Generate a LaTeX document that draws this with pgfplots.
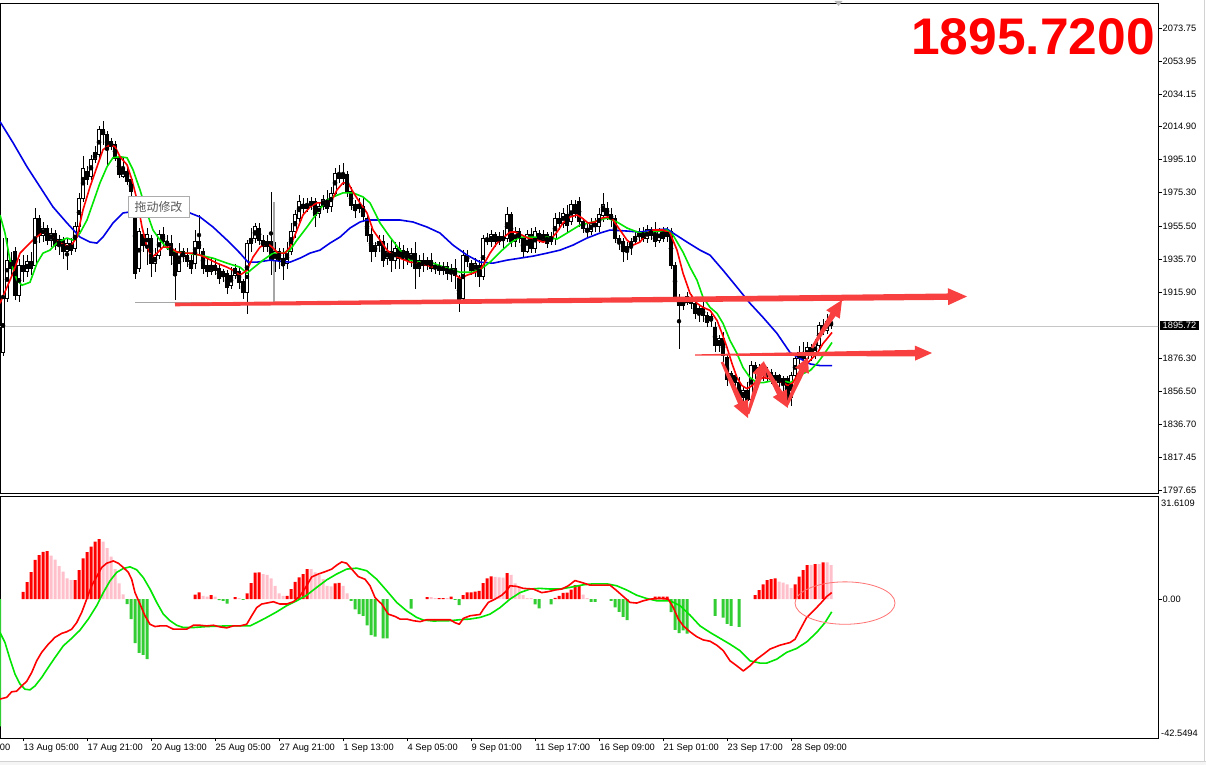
\documentclass[border=0pt]{standalone}
\usepackage{fontspec}
\setmainfont{Liberation Sans}
\newfontfamily\cjk{Noto Sans CJK SC}
\usepackage{pgfplots}
\pgfplotsset{compat=1.18}
\usepackage{pgfplotstable}
\usetikzlibrary{calc}

\definecolor{arr}{RGB}{248,64,64}
\definecolor{mared}{RGB}{255,0,0}
\definecolor{magreen}{RGB}{0,230,0}
\definecolor{mablue}{RGB}{0,0,230}
\definecolor{hred}{RGB}{255,0,0}
\definecolor{hpink}{RGB}{255,192,203}
\definecolor{hgreen}{RGB}{50,205,50}

\newcommand{\warrow}[8]{%
 \coordinate (wA) at (#1,765-#2);
 \coordinate (wB) at (#3,765-#4);
 \coordinate (wH) at ($(wB)!#8!(wA)$);
 \fill[arr] ($(wA)!#5!90:(wB)$) -- ($(wH)!#6!90:(wB)$) -- ($(wH)!#7!90:(wB)$) -- (wB) -- ($(wH)!#7!-90:(wB)$) -- ($(wH)!#6!-90:(wB)$) -- ($(wA)!#5!-90:(wB)$) -- cycle;}

\pgfplotstableread{
i O H L C
0 1880 1948 1878 1912
1 1912 1948 1910 1935
2 1935 1940 1925 1930
3 1940 1943 1911 1914
4 1914 1936 1910 1932
5 1932 1938 1922 1928
6 1928 1938 1925 1934
7 1934 1940 1926 1930
8 1932 1966 1930 1960
9 1960 1962 1945 1950
10 1950 1958 1946 1954
11 1954 1956 1944 1947
12 1947 1954 1943 1951
13 1951 1953 1941 1944
14 1944 1950 1938 1947
15 1947 1949 1936 1940
16 1940 1948 1929 1945
17 1945 1948 1938 1941
18 1942 1958 1940 1955
19 1955 1975 1952 1972
20 1972 1997 1970 1990
21 1988 1991 1980 1983
22 1985 1998 1983 1995
23 1995 2003 1993 1999
24 1998 2015 1996 2013
25 2013 2018 2004 2010
26 2010 2012 1991 2001
27 2003 2008 2001 2006
28 2004 2006 1994 1996
29 1996 1998 1984 1986
30 1985 1996 1984 1990
31 1988 1991 1980 1982
32 1983 1985 1973 1976
33 1972 1974 1924 1927
34 1930 1954 1928 1952
35 1950 1952 1940 1944
36 1944 1954 1932 1950
37 1948 1950 1925 1933
38 1933 1942 1928 1938
39 1938 1953 1936 1950
40 1950 1955 1943 1946
41 1946 1950 1941 1944
42 1945 1950 1932 1938
43 1940 1942 1911 1926
44 1928 1945 1928 1940
45 1940 1942 1934 1937
46 1938 1942 1931 1934
47 1935 1938 1927 1930
48 1933 1953 1930 1946
49 1946 1962 1938 1942
50 1940 1942 1927 1930
51 1932 1936 1925 1928
52 1928 1936 1926 1932
53 1932 1936 1926 1929
54 1930 1933 1921 1924
55 1925 1930 1922 1928
56 1927 1929 1915 1919
57 1920 1931 1918 1926
58 1926 1933 1924 1930
59 1928 1931 1918 1922
60 1922 1924 1912 1916
61 1916 1947 1903 1945
62 1945 1954 1940 1948
63 1948 1957 1945 1955
64 1954 1957 1944 1947
65 1947 1950 1940 1943
66 1943 1950 1940 1946
67 1946 1976 1926 1935
68 1935 1946 1928 1940
69 1940 1942 1930 1936
70 1936 1942 1923 1932
71 1933 1946 1930 1940
72 1940 1957 1938 1952
73 1952 1965 1948 1962
74 1960 1974 1958 1970
75 1968 1972 1963 1966
76 1966 1972 1964 1968
77 1968 1973 1965 1970
78 1970 1972 1955 1962
79 1963 1970 1960 1967
80 1967 1974 1965 1971
81 1970 1977 1963 1966
82 1967 1979 1964 1975
83 1975 1990 1973 1987
84 1987 1992 1981 1984
85 1984 1993 1980 1987
86 1986 1988 1973 1976
87 1976 1979 1965 1968
88 1968 1971 1960 1965
89 1966 1972 1963 1968
90 1967 1972 1958 1961
91 1960 1962 1946 1950
92 1950 1954 1934 1940
93 1940 1946 1937 1944
94 1944 1950 1940 1946
95 1946 1950 1931 1935
96 1936 1945 1932 1940
97 1940 1948 1928 1935
98 1935 1946 1930 1942
99 1942 1946 1930 1936
100 1937 1944 1930 1941
101 1940 1942 1932 1935
102 1935 1942 1931 1939
103 1939 1946 1918 1930
104 1930 1938 1925 1935
105 1935 1939 1928 1932
106 1932 1937 1929 1935
107 1935 1939 1928 1930
108 1930 1934 1927 1932
109 1932 1934 1926 1929
110 1929 1934 1926 1931
111 1931 1934 1923 1927
112 1927 1933 1922 1930
113 1930 1936 1918 1926
114 1924 1926 1904 1910
115 1912 1941 1910 1938
116 1938 1941 1931 1934
117 1933 1935 1926 1929
118 1929 1936 1925 1933
119 1932 1935 1919 1925
120 1925 1950 1923 1948
121 1948 1951 1944 1946
122 1946 1953 1943 1950
123 1950 1952 1943 1946
124 1946 1952 1944 1949
125 1949 1953 1942 1947
126 1948 1967 1946 1962
127 1962 1964 1943 1946
128 1946 1955 1943 1952
129 1952 1954 1945 1948
130 1948 1950 1937 1940
131 1940 1953 1939 1950
132 1950 1954 1939 1942
133 1942 1955 1939 1952
134 1951 1953 1945 1947
135 1947 1953 1945 1950
136 1950 1952 1942 1945
137 1946 1952 1944 1949
138 1948 1963 1944 1960
139 1960 1964 1953 1957
140 1957 1966 1954 1963
141 1962 1968 1952 1956
142 1958 1971 1956 1968
143 1968 1971 1960 1963
144 1970 1973 1955 1958
145 1958 1960 1951 1954
146 1954 1957 1948 1952
147 1952 1960 1950 1957
148 1957 1960 1952 1955
149 1955 1966 1952 1962
150 1962 1975 1958 1968
151 1966 1970 1959 1962
152 1962 1966 1955 1960
153 1960 1962 1945 1948
154 1948 1950 1941 1946
155 1946 1948 1934 1940
156 1940 1946 1935 1943
157 1943 1948 1938 1946
158 1946 1952 1944 1949
159 1949 1954 1946 1951
160 1951 1955 1946 1948
161 1948 1956 1945 1953
162 1953 1955 1947 1950
163 1950 1958 1943 1946
164 1947 1954 1945 1952
165 1952 1955 1946 1948
166 1949 1955 1946 1952
167 1952 1954 1930 1932
168 1932 1934 1910 1913
169 1912 1915 1882 1908
170 1908 1913 1905 1910
171 1910 1916 1908 1913
172 1912 1915 1906 1909
173 1909 1912 1900 1903
174 1904 1908 1898 1906
175 1906 1910 1898 1902
176 1902 1904 1895 1898
177 1899 1904 1895 1901
178 1895 1898 1880 1884
179 1884 1890 1880 1888
180 1888 1892 1874 1878
181 1877 1879 1860 1864
182 1864 1869 1860 1867
183 1866 1868 1858 1862
184 1862 1865 1850 1853
185 1853 1860 1849 1857
186 1857 1862 1848 1851
187 1852 1875 1850 1872
188 1872 1874 1864 1868
189 1868 1873 1864 1871
190 1871 1874 1863 1866
191 1866 1871 1862 1868
192 1868 1870 1861 1864
193 1864 1868 1860 1866
194 1866 1867 1859 1862
195 1862 1866 1856 1864
196 1864 1866 1849 1853
197 1853 1868 1848 1866
198 1866 1878 1864 1876
199 1876 1884 1873 1880
200 1880 1886 1872 1876
201 1876 1886 1874 1883
202 1883 1885 1875 1878
203 1879 1888 1876 1885
204 1884 1898 1882 1896
205 1896 1900 1890 1893
206 1893 1903 1891 1898
207 1898 1901 1894 1895.72
}\candles

\begin{document}
\begin{tikzpicture}[x=1bp,y=1bp]
\fill[white] (0,0) rectangle (1206,765);
\fill[gray!8] (0,0) rectangle (1206,3.5);
\draw[gray!35, line width=0.8bp] (0,3.5) -- (1206,3.5);
\draw[gray!35, line width=0.8bp] (1204.6,3.5) -- (1204.6,765);

% ---------------- price panel ----------------
\begin{axis}[
  at={(0bp,272bp)}, anchor=south west,
  width=1158bp, height=490bp, scale only axis,
  xmin=-0.75, xmax=288.75, ymin=1795.86, ymax=2088.69,
  xtick=\empty,
  ytick={2073.75,2053.95,2034.15,2014.90,1995.10,1975.30,1955.50,1935.70,1915.90,1876.30,1856.50,1836.70,1817.45,1797.65},
  yticklabels={2073.75,2053.95,2034.15,2014.90,1995.10,1975.30,1955.50,1935.70,1915.90,1876.30,1856.50,1836.70,1817.45,1797.65},
  ytick pos=right, yticklabel pos=right,
  tick align=outside, major tick length=3.5bp,
  ytick style={black, line width=0.6bp},
  yticklabel style={font=\fontsize{9.3}{11}\selectfont, anchor=west, inner xsep=1bp},
  axis line style={black, line width=0.8bp},
  clip=true,
]
\addplot[gray!45, line width=0.7bp, forget plot] coordinates {(-1,1895.72) (290,1895.72)};
\addplot[gray!70, line width=1.5bp, forget plot] coordinates {(33,1909.7) (67.75,1909.7) (67.75,1970)};
% wicks
\addplot[only marks, mark=none, forget plot,
  error bars/.cd, y dir=both, y explicit, error mark=none,
  error bar style={draw=black, line width=1bp}]
  table[x=i, y expr={(\thisrow{H}+\thisrow{L})/2}, y error expr={(\thisrow{H}-\thisrow{L})/2}] {\candles};
% bodies
\addplot[only marks, mark=none, forget plot,
  error bars/.cd, y dir=both, y explicit, error mark=none,
  error bar style={draw=black, line width=3.4bp, line cap=butt}]
  table[x=i, y expr={(\thisrow{O}+\thisrow{C})/2}, y error expr={abs(\thisrow{C}-\thisrow{O})/2+0.35}] {\candles};
\addplot[only marks, mark=none, forget plot,
  error bars/.cd, y dir=both, y explicit, error mark=none,
  error bar style={draw=white, line width=1.6bp, line cap=butt}]
  table[x=i, y expr={(\thisrow{O}+\thisrow{C})/2}, y error expr={(\thisrow{C}>\thisrow{O})*max(abs(\thisrow{C}-\thisrow{O})/2-0.25,0)}] {\candles};
% moving averages
\addplot[mablue, line width=1.6bp, line join=round, mark=none] coordinates {
(-0.75,2017.8) (2.5,2005.2) (6,1990.8) (9.25,1978.8) (12.5,1966.8) (16,1957.2) (19.25,1948.8) (21.75,1945.8) (23.5,1945.2) (25,1948.8) (27.5,1957.2) (30,1963.2) (31.75,1963.8) (39.25,1966.2) (46.75,1963.2) (49.25,1960.8) (52.5,1954.8) (56,1947) (59.25,1939.2) (61.25,1933.8) (63.5,1933.8) (66.75,1935) (69.25,1934.4) (71.75,1933.8) (74.25,1936.2) (76.75,1939.2) (79.25,1941) (81.75,1945.2) (84.25,1948.8) (86.75,1954.2) (89.25,1957.8) (91,1959) (99.25,1959) (102.5,1957.8) (106,1954.8) (109.25,1951.2) (112.5,1944) (116,1938) (119.25,1933.8) (122.5,1933.2) (126,1935) (129.25,1936.2) (132.5,1937.4) (136,1939.2) (139.25,1941) (142.5,1944) (146,1948.2) (149.25,1951.2) (151.75,1953) (156,1952.4) (159.25,1951.8) (162.5,1953) (166,1953.6) (167.5,1951.2) (171,1945.8) (174.25,1941) (176.75,1938) (180,1929) (183.5,1918.8) (186.75,1909.2) (190,1900.8) (193.5,1891.2) (196.75,1879.8) (199.25,1876.2) (201.75,1873) (204.25,1872) (207.25,1872)};
\addplot[magreen, line width=1.6bp, line join=round, mark=none] coordinates {
(-0.75,1962) (0.5,1951.2) (1.75,1935) (3.5,1923) (4.75,1920) (6.75,1921.8) (8.5,1933.2) (10,1939.2) (11.75,1941) (13.75,1945.8) (16,1948.2) (17.5,1947) (19.25,1951.2) (21,1959) (22.5,1969.2) (24.25,1981.2) (26,1990.8) (27.5,1996.2) (29.25,1996.8) (31,1996.2) (32.5,1989) (34.25,1977) (36,1963.2) (37.5,1953) (39.25,1947) (41,1942.2) (43.5,1939.8) (46,1939.2) (49.25,1938) (52.5,1936.2) (56,1933.2) (59.25,1930.8) (61,1927.2) (62.5,1930.2) (65,1935) (67.5,1939.2) (70,1939.2) (71.75,1941) (73.5,1947) (76,1954.8) (78.5,1963.2) (81,1971) (82.5,1972.8) (85,1975.2) (87.5,1975.2) (90,1972.8) (91.75,1969.2) (94.25,1957.2) (96.75,1948.8) (99.25,1941) (101.75,1935) (104.25,1933.8) (107.5,1933.2) (111,1930.2) (114.25,1927.8) (117.5,1927.8) (119.75,1930.2) (121.75,1933.8) (124.25,1939.8) (126.75,1945.2) (129.25,1948.8) (132.5,1948.8) (136,1948.8) (138.5,1947.6) (141,1951.2) (144.25,1956) (147.5,1957.8) (151,1960.2) (153.5,1957.8) (156,1954.2) (159.25,1951.2) (162.5,1951.8) (166,1953) (167.5,1950) (170,1939.8) (171.75,1930.8) (173.5,1923) (175,1912.8) (176.75,1906.8) (178.5,1903.2) (180,1897.2) (181.75,1887) (183.5,1879.2) (185,1870.8) (186.75,1864.8) (188.5,1861.8) (190,1861.8) (192.5,1863) (195,1863) (196.75,1861.8) (198.5,1864.2) (200,1867.2) (201.75,1869) (203.5,1873.2) (205,1878) (206.75,1884) (207.25,1885.8)};
\addplot[mared, line width=1.6bp, line join=round, mark=none] coordinates {
(-0.75,1909.2) (2.5,1927.2) (4.25,1939.2) (7.5,1947) (10,1951.8) (12.25,1948.8) (14.25,1945.2) (16.75,1942.8) (18.5,1948.8) (20,1965) (21.75,1978.8) (23.5,1990.8) (25,2001) (26.75,2004) (28,2002.8) (29.25,1996.8) (31,1992) (32.25,1983) (33.5,1971) (34.75,1954.8) (36,1942.8) (37.25,1936.8) (38.5,1939.2) (40,1942.8) (41.75,1942.8) (43.5,1939.8) (45,1939.2) (47.25,1939.2) (49.25,1938) (51,1936.2) (53.5,1933.2) (56,1930.8) (57.5,1929) (59.25,1926) (61,1929) (62.5,1936.8) (64.25,1942.8) (66,1945.2) (67.25,1942.8) (68.75,1939.2) (70.5,1939.2) (71.75,1942.8) (73.5,1953) (75,1962) (76.75,1966.8) (78.5,1969.2) (80.5,1969.2) (82.25,1971) (83.5,1977) (85,1981.2) (86.25,1981.2) (87.5,1975.8) (89.25,1969.2) (91,1963.2) (92.5,1953) (94.25,1947) (96,1941) (97.5,1938) (99.25,1936.2) (101.75,1933.8) (104.25,1933.2) (107.5,1930.8) (110,1930.2) (112.5,1927.2) (114.25,1924.2) (116,1926) (117.5,1927.2) (119.25,1929) (120.5,1933.8) (121.75,1939.2) (123.5,1945.2) (125,1948.2) (126.75,1951.8) (128,1951.8) (129.75,1950) (131.25,1948.2) (133.5,1947) (135,1945.8) (136.75,1947) (138.5,1951.8) (140,1957.2) (141.75,1960.8) (143.5,1962) (144.75,1960.2) (146.25,1957.2) (148,1957.8) (149.75,1960.2) (151.25,1960.8) (152.5,1959) (154.25,1953) (156,1947) (157.5,1944) (159.25,1945.8) (161,1951.2) (162.5,1953) (165,1953) (166.75,1951.2) (168.5,1941) (170,1927.2) (171.75,1915.2) (173.5,1909.2) (175,1906.8) (176.75,1905) (178.5,1899) (179.75,1891.2) (181,1882.8) (182.25,1873.2) (183.5,1864.8) (184.75,1860) (186,1858.2) (187.25,1860) (188.5,1863) (190,1864.8) (191.75,1864.2) (193.5,1863) (195,1861.8) (196.25,1860) (197.5,1861.8) (198.75,1867.2) (200,1870.8) (201.75,1875) (203.5,1879.2) (205,1885.2) (206.25,1888.8) (207.25,1891.8)};
\end{axis}

% ---------------- MACD panel ----------------
\begin{axis}[
  at={(0bp,27bp)}, anchor=south west,
  width=1158bp, height=242bp, scale only axis,
  xmin=-0.75, xmax=288.75, ymin=-42.5494, ymax=31.6109,
  xtick={5,21,...,197},
  xticklabels={13 Aug 05:00,17 Aug 21:00,20 Aug 13:00,25 Aug 05:00,27 Aug 21:00,1 Sep 13:00,4 Sep 05:00,9 Sep 01:00,11 Sep 17:00,16 Sep 09:00,21 Sep 01:00,23 Sep 17:00,28 Sep 09:00},
  xtick pos=bottom,
  xticklabel style={font=\fontsize{9.3}{11}\selectfont, anchor=north west, inner xsep=0.5bp, inner ysep=2bp},
  ytick={0}, yticklabels={0.00},
  ytick pos=right, yticklabel pos=right,
  tick align=outside, major tick length=3.5bp,
  tick style={black, line width=0.6bp},
  yticklabel style={font=\fontsize{9.3}{11}\selectfont, anchor=west, inner xsep=1bp},
  axis line style={black, line width=0.8bp},
  clip=true,
]
\addplot[ybar, bar width=3bp, bar shift=0pt, fill=hred, draw=none, forget plot] coordinates {
(5,2.25) (6,5.2) (7,8.3) (8,12.0) (9,13.5) (10,14.5) (11,14.7) (18,5.8) (19,8.9) (20,12.5) (21,14.4) (22,16.1) (23,17.6) (24,18.4) (48,1.4) (49,2.1) (52,1.2) (58,0.6) (61,1.8) (62,4.9) (63,8.1) (64,8.2) (71,1.0) (72,3.1) (73,5.3) (74,6.7) (75,7.7) (76,9.2) (83,4.8) (84,5.0) (106,0.6) (109,0.3) (110,0.3) (112,0.8) (115,1.2) (116,2.1) (117,2.1) (118,2.3) (119,2.5) (120,4.9) (121,6.4) (122,7.0) (126,8.0) (138,0.4) (139,1.0) (140,1.9) (141,2.0) (142,2.9) (143,4.3) (144,4.3) (163,0.8) (164,0.8) (165,0.8) (166,0.8) (188,1.2) (189,2.8) (190,4.5) (191,5.8) (192,6.1) (193,6.4) (198,4.5) (199,6.9) (200,8.9) (201,10.4) (203,10.7) (205,11.3)};
\addplot[ybar, bar width=3bp, bar shift=0pt, fill=hpink, draw=none, forget plot] coordinates {
(12,13.3) (13,12.1) (14,10.1) (15,8.4) (16,6.4) (17,5.8) (25,17.6) (26,15.6) (27,13.0) (28,9.2) (29,4.8) (30,1.5) (50,1.0) (51,0.8) (53,0.8) (59,0.3) (65,7.7) (66,7.4) (67,6.4) (68,4.1) (69,1.8) (70,1.0) (77,9.2) (78,8.2) (79,7.4) (80,6.1) (81,4.1) (82,3.9) (85,4.1) (86,1.8) (107,0.6) (108,0.3) (111,0.3) (123,6.8) (124,6.7) (125,6.6) (127,7.4) (128,4.8) (129,3.9) (130,1.2) (131,0.3) (132,0.3) (145,1.4) (146,0.3) (194,5.4) (195,5.1) (196,4.5) (197,3.4) (202,10.4) (204,10.7) (206,11.3) (207,10.4)};
\addplot[ybar, bar width=3bp, bar shift=0pt, fill=hgreen, draw=none, forget plot] coordinates {
(-0.85,-39) (31,-1.5) (32,-6.1) (33,-13.5) (34,-16.5) (35,-17.1) (36,-18.4) (54,-0.3) (55,-0.5) (56,-1.4) (60,-0.2) (87,-0.5) (88,-3.1) (89,-4.6) (90,-5.1) (91,-8.0) (92,-11.0) (93,-11.5) (95,-12.0) (96,-12.0) (102,-2.9) (113,-0.2) (114,-1.8) (133,-1.6) (134,-2.8) (137,-1.6) (147,-0.8) (148,-0.8) (152,-0.5) (153,-2.5) (154,-3.9) (155,-5.4) (156,-6.4) (167,-4.0) (168,-9.4) (169,-10.4) (170,-9.6) (171,-10.6) (178,-5.1) (180,-5.7) (181,-7.6) (182,-8.2) (184,-8.5)};
% signal line
\addplot[magreen, line width=1.6bp, line join=round, mark=none] coordinates {
(-0.75,-10.2) (0.5,-13.3) (1.75,-18.4) (3,-23.0) (4.25,-26.0) (5.5,-27.6) (6.75,-27.8) (8,-26.6) (9.67,-24.0) (11.33,-20.9) (13,-17.9) (15.08,-14.3) (17.17,-12.0) (19.25,-9.5) (21.33,-6.1) (23.42,-2.0) (25.08,2.0) (26.75,5.6) (28.42,8.2) (30.08,9.4) (31.75,9.9) (33.42,9.0) (35.08,6.6) (36.75,3.1) (38.42,-1.0) (40.08,-4.6) (41.75,-6.6) (43.42,-8.0) (45.08,-8.7) (47.58,-8.7) (50.92,-8.4) (55.92,-8.2) (61.75,-8.2) (63.42,-7.2) (65.92,-5.6) (68.42,-3.9) (70.92,-2.0) (73.42,-0.5) (75.92,1.2) (78.42,3.6) (80.92,5.9) (83.42,7.7) (85.92,9.2) (88.42,9.5) (90.92,8.7) (93.42,6.1) (95.92,2.6) (98.42,-1.0) (100.92,-3.6) (103.42,-5.6) (105.08,-6.4) (107.58,-6.7) (111.75,-6.6) (114.25,-6.3) (116.75,-6.1) (119.25,-5.6) (121.75,-4.6) (124.25,-2.6) (126.75,0) (129.25,2.0) (131.75,3.1) (134.25,3.3) (136.75,3.1) (139.25,3.1) (141.75,3.6) (145.08,4.4) (147.58,4.7) (150.92,4.7) (153.42,4.1) (155.92,2.8) (158.42,1.2) (160.92,0.2) (163.42,-0.5) (166.75,-0.5) (169.25,-2.0) (171.75,-4.9) (174.25,-8.2) (176.75,-10.2) (179.25,-12.0) (181.75,-13.8) (184.25,-15.8) (186.75,-18.9) (189.25,-19.6) (190.92,-19.6) (193.42,-18.4) (195.92,-16.3) (198.42,-15.1) (200.92,-13.1) (203.42,-10.2) (205.5,-7.2) (207.17,-3.9)};
% MACD line
\addplot[mared, line width=1.6bp, line join=round, mark=none] coordinates {
(-0.75,-30.6) (0.92,-30.1) (2.17,-28.4) (3.42,-28.2) (4.67,-26.6) (5.92,-25.2) (7.17,-22.5) (8.42,-18.9) (9.67,-16.3) (11.33,-13.8) (13,-11.7) (14.67,-10.5) (15.92,-10.0) (17.17,-9.2) (18.42,-7.2) (19.67,-4.1) (20.92,0) (22.17,4.1) (23.42,6.9) (24.67,9.7) (25.92,11.0) (27.58,11.7) (28.83,11.0) (30.08,9.7) (31.33,8.2) (32.17,6.1) (33,2.0) (34.25,-1.5) (35.5,-5.1) (36.75,-7.7) (38,-8.4) (39.25,-8.2) (40.92,-8.2) (42.58,-9.2) (44.25,-9.2) (45.92,-9.2) (47.58,-8.0) (49.25,-8.0) (50.92,-8.2) (52.58,-8.0) (54.25,-8.5) (55.92,-8.8) (57.58,-8.2) (59.25,-8.2) (60.92,-7.7) (62.17,-5.1) (63.42,-2.6) (64.67,-1.5) (65.92,-1.2) (67.58,-0.8) (69.25,-1.5) (70.92,-1.5) (72.58,-0.8) (74.25,1.0) (75.92,4.1) (77.17,6.8) (78.83,7.7) (80.5,8.4) (82.17,9.2) (83.42,10.4) (84.67,11.4) (85.92,11.0) (87.17,9.2) (88.83,6.9) (90.5,6.1) (91.75,4.1) (93,0.5) (94.67,-1.5) (96.33,-4.6) (98,-5.3) (99.25,-6.1) (100.92,-6.1) (102.58,-6.6) (104.25,-6.9) (105.92,-6.3) (107.58,-6.3) (110.08,-6.3) (111.75,-6.3) (113,-7.2) (114.08,-7.7) (115.08,-5.9) (116.75,-5.1) (119.25,-4.7) (120.08,-3.1) (121.33,-1.0) (123,0) (124.67,1.2) (125.92,2.6) (126.75,4.1) (128.42,3.9) (130.08,3.3) (132.58,3.1) (134.67,2.0) (136.33,2.3) (138,2.8) (139.67,3.1) (141.33,4.1) (143,5.7) (144.67,5.1) (146.75,4.3) (149.25,4.3) (151.75,4.3) (153.42,2.6) (155.08,0.8) (156.75,-1.0) (158.42,-1.2) (160.08,-0.5) (161.75,0) (164.25,0.2) (166.33,0) (167.58,-2.6) (168.83,-6.1) (170.08,-8.2) (171.75,-10.0) (173.42,-11.5) (175.08,-12.5) (176.75,-12.9) (178.42,-14.1) (180.08,-15.8) (181.75,-18.9) (183.42,-20.4) (185.08,-22.0) (186.75,-20.4) (188.42,-18.4) (190.08,-16.9) (191.75,-15.3) (194.25,-14.1) (196.75,-13.3) (198,-12.3) (199.25,-9.4) (200.92,-5.6) (202.58,-3.6) (204.25,-1.5) (205.92,0.8) (207.17,2.0)};
\draw[red!55, line width=0.8bp] (axis cs:210.5,-1.2) ellipse [x radius=12.5, y radius=6.5];
\end{axis}

% -------- annotations (pixel coordinates) --------
\warrow{175}{304.5}{967}{296.5}{1.8bp}{3.2bp}{8.5bp}{19bp}
\warrow{695}{355}{932}{353}{0.6bp}{3.3bp}{7.5bp}{17bp}
\warrow{722}{362}{748}{418}{1.3bp}{3bp}{8bp}{17bp}
\warrow{748}{414}{764}{361}{1.3bp}{3bp}{7.5bp}{15bp}
\warrow{763}{363}{788}{408}{1.3bp}{3bp}{8bp}{17bp}
\warrow{787}{405}{808}{357}{1.3bp}{3bp}{7.5bp}{15bp}
\warrow{812}{348}{842}{300}{1.3bp}{3bp}{8bp}{17bp}

\node[draw=gray!65, fill=white, minimum width=61bp, minimum height=21bp, inner sep=0pt,
  font=\cjk\fontsize{12}{12}\selectfont, text=black!65] at (158.5,765-206.5) {拖动修改};

\node[anchor=base east, inner sep=0pt, text=red, font=\fontsize{51.7}{52}\selectfont\bfseries] at (1155,765-55) {1895.7200};

\node[anchor=west, fill=black, text=white, inner xsep=2.5bp, inner ysep=1.2bp, font=\fontsize{9.3}{11}\selectfont] at (1160,765-325.5) {1895.72};

\node[anchor=west, inner xsep=1bp, inner ysep=0pt, font=\fontsize{9.3}{11}\selectfont] at (1160,765-503.5) {31.6109};
\node[anchor=west, inner xsep=1bp, inner ysep=0pt, font=\fontsize{9.3}{11}\selectfont] at (1160,765-733) {-42.5494};
\node[anchor=north east, inner xsep=0pt, inner ysep=2bp, font=\fontsize{9.3}{11}\selectfont] at (10.5,765-742) {10 Aug 13:00};

\fill[gray!55] (834.5,764) -- (842.5,764) -- (838.5,759) -- cycle;

\pgfresetboundingbox
\useasboundingbox (0,0) rectangle (1206,765);
\end{tikzpicture}
\end{document}
